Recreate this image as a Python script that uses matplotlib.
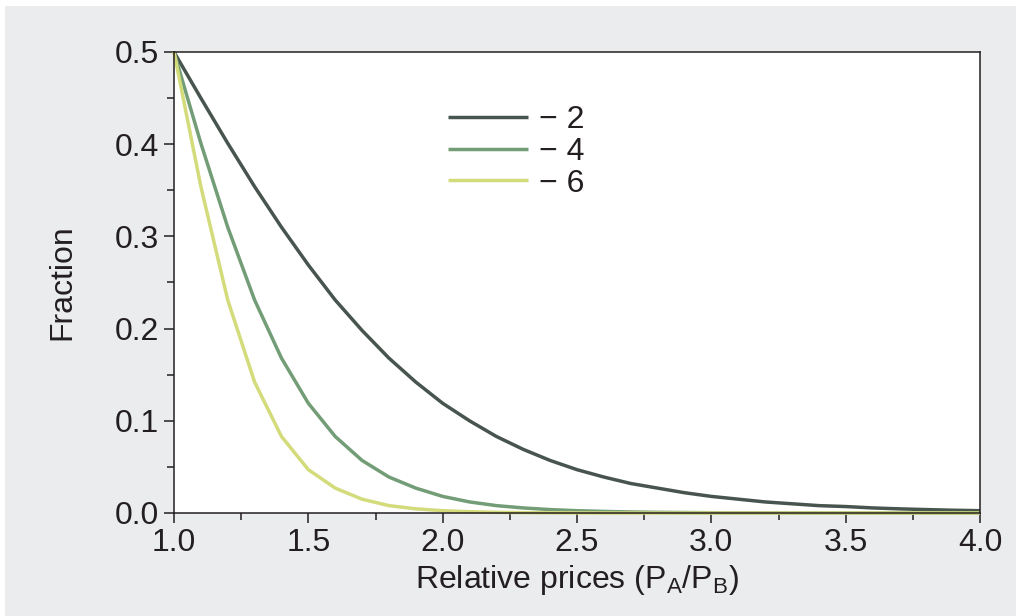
import matplotlib.pyplot as plt
from matplotlib.patches import Rectangle
from matplotlib.ticker import MultipleLocator

plt.rcParams['font.family'] = ['Liberation Sans', 'DejaVu Sans']
plt.rcParams['mathtext.fontset'] = 'custom'
plt.rcParams['mathtext.rm'] = 'Liberation Sans'

# Data (points every 0.1 along the x axis)
rel_price = [1.0, 1.1, 1.2, 1.3, 1.4, 1.5, 1.6, 1.7, 1.8, 1.9,
             2.0, 2.1, 2.2, 2.3, 2.4, 2.5, 2.6, 2.7, 2.8, 2.9,
             3.0, 3.1, 3.2, 3.3, 3.4, 3.5, 3.6, 3.7, 3.8, 3.9, 4.0]
frac_m2 = [0.500, 0.450, 0.401, 0.354, 0.310, 0.269, 0.231, 0.198, 0.168, 0.142,
           0.119, 0.100, 0.083, 0.069, 0.057, 0.047, 0.039, 0.032, 0.027, 0.022,
           0.018, 0.015, 0.012, 0.010, 0.008, 0.007, 0.0055, 0.0045, 0.0037, 0.0030, 0.0025]
frac_m4 = [0.500, 0.401, 0.310, 0.231, 0.168, 0.119, 0.083, 0.057, 0.039, 0.027,
           0.018, 0.012, 0.008, 0.0055, 0.0037, 0.0025, 0.0017, 0.0011, 0.0007, 0.0005,
           0.0003, 0.0002, 0.0002, 0.0001, 0.0001, 0.0001, 0.0, 0.0, 0.0, 0.0, 0.0]
frac_m6 = [0.500, 0.354, 0.231, 0.142, 0.083, 0.047, 0.027, 0.015, 0.008, 0.0045,
           0.0025, 0.0014, 0.0007, 0.0004, 0.0002, 0.0001, 0.0, 0.0, 0.0, 0.0,
           0.0, 0.0, 0.0, 0.0, 0.0, 0.0, 0.0, 0.0, 0.0, 0.0, 0.0]
series_labels = ['\u2212 2', '\u2212 4', '\u2212 6']
series_colors = ['#48554f', '#739d76', '#d3db7b']

ink = '#231f20'
fs = 23

fig = plt.figure(figsize=(10.16, 6.16), dpi=100, facecolor='white')
# grey panel behind the chart, thin white strip at top and left
fig.patches.append(Rectangle((5 / 1016, 0), 1, 1 - 6 / 616, transform=fig.transFigure,
                             facecolor='#ebecee', edgecolor='none', zorder=-10))

ax = fig.add_axes([174 / 1016, 1 - 513 / 616, 806 / 1016, 461 / 616])
ax.set_facecolor('white')

for ys, lab, col in zip([frac_m2, frac_m4, frac_m6], series_labels, series_colors):
    ax.plot(rel_price, ys, color=col, lw=2.5, label=lab, clip_on=False, solid_capstyle='butt')

ax.set_xlim(1.0, 4.0)
ax.set_ylim(0.0, 0.5)
ax.xaxis.set_major_locator(MultipleLocator(0.5))
ax.xaxis.set_minor_locator(MultipleLocator(0.25))
ax.yaxis.set_major_locator(MultipleLocator(0.1))
ax.yaxis.set_minor_locator(MultipleLocator(0.05))
ax.xaxis.set_major_formatter(plt.FormatStrFormatter('%.1f'))
ax.yaxis.set_major_formatter(plt.FormatStrFormatter('%.1f'))

ax.tick_params(which='both', direction='out', color=ink, width=1.1,
               labelsize=fs, labelcolor=ink, top=False, right=False)
ax.tick_params(which='major', length=7.5)
ax.tick_params(which='minor', length=5)
ax.tick_params(axis='y', pad=3)
ax.tick_params(axis='x', pad=3)

for sp in ax.spines.values():
    sp.set_color(ink)
    sp.set_linewidth(1.1)

ax.set_xlabel(r'Relative prices (P$_\mathregular{A}$/P$_\mathregular{B}$)',
              fontsize=fs, color=ink, labelpad=4)
ax.set_ylabel('Fraction', fontsize=fs, color=ink, labelpad=27)

ax.legend(loc='center left', bbox_to_anchor=(0.34, 0.783), frameon=False,
          fontsize=fs, handlelength=2.5, handletextpad=0.35, labelspacing=0.05,
          borderpad=0, borderaxespad=0, labelcolor=ink)

plt.savefig('out.png', dpi=100, facecolor=fig.get_facecolor())
